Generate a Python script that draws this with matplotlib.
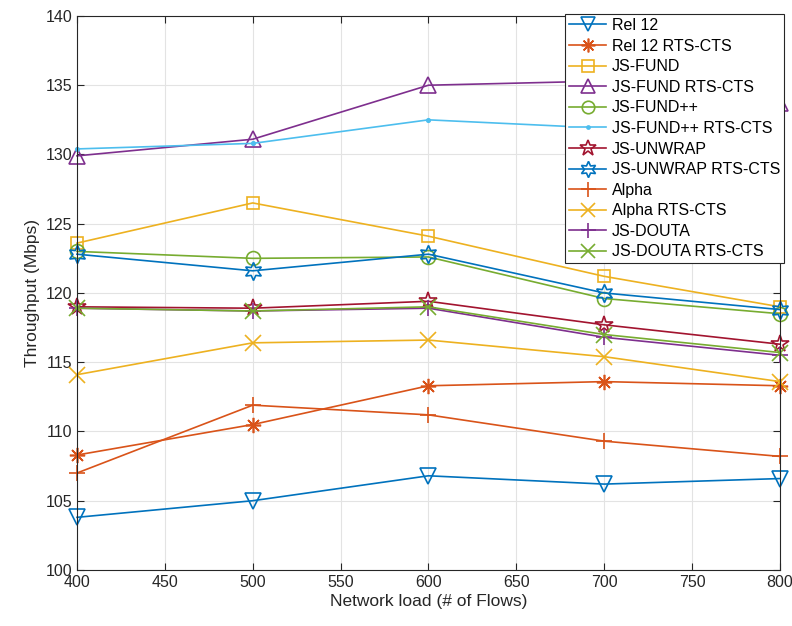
import matplotlib.pyplot as plt

plt.rcParams['font.family'] = ['Liberation Sans', 'DejaVu Sans']

loads = [400, 500, 600, 700, 800]

rel12 = [103.8, 105.0, 106.8, 106.2, 106.6]
rel12_rts = [108.3, 110.5, 113.3, 113.6, 113.3]
js_fund = [123.6, 126.5, 124.1, 121.2, 119.0]
js_fund_rts = [129.9, 131.1, 135.0, 135.3, 133.7]
js_fundpp = [123.0, 122.5, 122.6, 119.6, 118.5]
js_fundpp_rts = [130.4, 130.8, 132.5, 131.9, 131.3]
js_unwrap = [119.0, 118.9, 119.4, 117.7, 116.3]
js_unwrap_rts = [122.8, 121.6, 122.8, 120.0, 118.8]
alpha = [107.0, 111.9, 111.2, 109.3, 108.2]
alpha_rts = [114.1, 116.4, 116.6, 115.4, 113.6]
js_douta = [118.9, 118.7, 118.9, 116.8, 115.5]
js_douta_rts = [118.9, 118.7, 119.0, 117.0, 115.7]

labels = ['Rel 12', 'Rel 12 RTS-CTS', 'JS-FUND', 'JS-FUND RTS-CTS', 'JS-FUND++',
          'JS-FUND++ RTS-CTS', 'JS-UNWRAP', 'JS-UNWRAP RTS-CTS', 'Alpha',
          'Alpha RTS-CTS', 'JS-DOUTA', 'JS-DOUTA RTS-CTS']
series = [rel12, rel12_rts, js_fund, js_fund_rts, js_fundpp, js_fundpp_rts,
          js_unwrap, js_unwrap_rts, alpha, alpha_rts, js_douta, js_douta_rts]

# MATLAB default color order, cycled
colors = ['#0072BD', '#D95319', '#EDB120', '#7E2F8E', '#77AC30', '#4DBEEE',
          '#A2142F', '#0072BD', '#D95319', '#EDB120', '#7E2F8E', '#77AC30']
# asterisk = 8 spokes, hexagram = 6-point star
markers = ['v', (8, 2, 0), 's', '^', 'o', '.', '*', (6, 1, 0), '+', 'x', '+', 'x']
msizes = [11, 11, 9, 11, 10, 5, 13, 13, 12, 11, 12, 11]

fig = plt.figure(figsize=(7.92, 6.26), dpi=100)
ax = fig.add_axes([0.0972, 0.0895, 0.8876, 0.885])

for y, lab, c, m, ms in zip(series, labels, colors, markers, msizes):
    filled = m == '.'
    ax.plot(loads, y, color=c, marker=m, markersize=ms, linewidth=1.2,
            markerfacecolor=c if filled else 'none', markeredgecolor=c,
            markeredgewidth=1.2, label=lab, clip_on=False)

ax.set_xlim(400, 800)
ax.set_ylim(100, 140)
ax.set_xticks(range(400, 801, 50))
ax.set_yticks(range(100, 141, 5))
ax.grid(True, color='#e3e3e3', linewidth=0.8)
ax.set_axisbelow(True)
ax.tick_params(direction='in', top=True, right=True, labelsize=11.5,
               length=5, width=0.8, colors='#262626')
for s in ax.spines.values():
    s.set_color('#262626')
    s.set_linewidth(0.8)

ax.set_xlabel('Network load (# of Flows)', fontsize=12.5, color='#262626', labelpad=3)
ax.set_ylabel('Throughput (Mbps)', fontsize=12.5, color='#262626', labelpad=4)

leg = ax.legend(loc='upper right', bbox_to_anchor=(784 / 792, 1 - 14 / 626),
                bbox_transform=fig.transFigure, fontsize=11.5, frameon=True,
                fancybox=False, framealpha=1, edgecolor='#262626',
                handlelength=2.3, borderaxespad=0, labelspacing=0.35,
                borderpad=0.25, handletextpad=0.35, markerscale=0.9)
leg.get_frame().set_linewidth(0.8)
leg.set_zorder(10)

fig.savefig('out.png', dpi=100)
